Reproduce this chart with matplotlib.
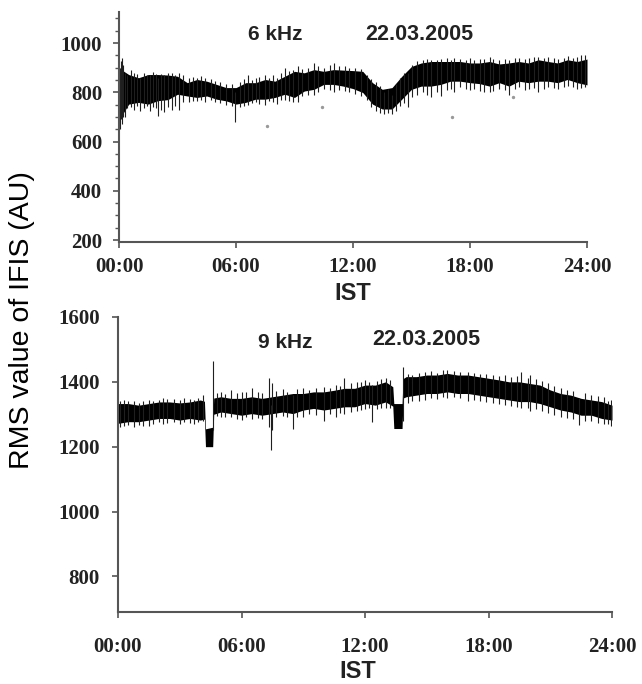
import matplotlib
matplotlib.use('Agg')
import matplotlib.pyplot as plt

# ---- 6 kHz panel: dense band (core) + single spikes
top_hours = [0, 0.25, 0.5, 1, 1.5, 2, 2.5, 3, 3.5, 4,
             4.5, 5, 5.5, 6, 6.5, 7, 7.5, 8, 8.5, 9,
             9.5, 10, 10.5, 11, 11.5, 12, 12.5, 13, 13.5, 14,
             14.5, 15, 15.5, 16, 16.5, 17, 17.5, 18, 18.5, 19,
             19.5, 20, 20.5, 21, 21.5, 22, 22.5, 23, 23.5, 24]
top_hi = [900, 885, 872, 859, 872, 872, 870, 865, 839, 852,
          845, 832, 819, 819, 839, 839, 852, 845, 865, 885,
          879, 892, 885, 892, 890, 888, 885, 839, 812, 819,
          865, 905, 919, 925, 925, 925, 925, 919, 919, 925,
          915, 919, 925, 919, 932, 925, 919, 932, 925, 935]
top_lo = [680, 720, 752, 759, 752, 766, 770, 792, 785, 779,
          785, 772, 765, 752, 759, 772, 772, 779, 792, 779,
          805, 812, 832, 832, 825, 815, 799, 752, 732, 732,
          772, 812, 825, 825, 832, 845, 845, 839, 835, 825,
          839, 825, 845, 839, 845, 845, 839, 852, 839, 830]

top_spike_h = [0.05, 0.1, 0.15, 0.22, 0.3, 0.4, 0.6, 0.75, 0.9, 1.1,
               1.3, 1.45, 1.6, 1.75, 1.9, 2.0, 2.15, 2.3, 2.5, 2.7,
               2.85, 3.1, 3.3, 3.6, 3.8, 4.0, 4.2, 4.4, 4.7, 4.9,
               5.2, 5.5, 5.8, 5.95, 6.2, 6.4, 6.6, 6.8, 7.0, 7.2,
               7.5, 7.7, 7.9, 8.1, 8.3, 8.5, 8.7, 8.9, 9.2, 9.4,
               9.7, 10.0, 10.2, 10.5, 10.8, 11.0, 11.3, 11.6, 11.8, 12.1,
               12.4, 12.7, 12.9, 13.2, 13.4, 13.6, 13.8, 14.0, 14.2, 14.4,
               14.6, 14.8, 15.0, 15.3, 15.6, 15.8, 16.0, 16.3, 16.5, 16.8,
               17.0, 17.2, 17.5, 17.8, 18.0, 18.2, 18.5, 18.7, 19.0, 19.2,
               19.5, 19.8, 20.0, 20.3, 20.5, 20.8, 21.0, 21.3, 21.5, 21.8,
               22.0, 22.3, 22.5, 22.8, 23.0, 23.3, 23.5, 23.7, 23.9]
top_spike_lo = [650, 690, 670, 700, 700, 735, 740, 730, 745, 725,
                735, 745, 723, 740, 735, 705, 730, 720, 740, 730,
                745, 727, 760, 760, 765, 765, 768, 760, 770, 762,
                755, 750, 745, 679, 740, 745, 750, 755, 760, 752,
                750, 765, 760, 752, 770, 770, 765, 762, 760, 785,
                790, 790, 800, 815, 810, 800, 810, 805, 800, 795,
                785, 770, 740, 725, 715, 712, 715, 712, 725, 745,
                755, 740, 780, 790, 800, 790, 779, 800, 785, 810,
                815, 800, 820, 815, 810, 812, 805, 800, 800, 805,
                815, 808, 790, 812, 820, 810, 815, 818, 800, 815,
                820, 818, 812, 820, 825, 820, 812, 818, 820]
top_spike_hi = [900, 925, 939, 910, 880, 870, 892, 880, 875, 860,
                878, 870, 870, 882, 875, 860, 875, 870, 880, 880,
                872, 879, 870, 858, 862, 858, 865, 860, 852, 845,
                842, 835, 835, 800, 840, 855, 872, 850, 858, 862,
                870, 860, 872, 860, 880, 899, 885, 890, 905, 895,
                900, 919, 905, 900, 910, 919, 905, 908, 900, 900,
                895, 870, 855, 840, 825, 800, 815, 790, 835, 860,
                880, 880, 912, 925, 930, 935, 930, 932, 935, 938,
                932, 940, 935, 930, 939, 930, 935, 935, 945, 935,
                930, 935, 930, 938, 940, 935, 938, 942, 945, 940,
                945, 938, 935, 940, 948, 940, 945, 950, 950]
top_dots_h = [7.6, 10.4, 17.1, 20.2]
top_dots_v = [664, 740, 700, 780]

# ---- 9 kHz panel
bot_hours = [0, 0.5, 1, 1.5, 2, 2.5, 3, 3.5, 4,
             4.2, 4.25, 4.6, 4.65,
             5, 5.5, 6, 6.5, 7, 7.3, 7.5,
             8, 8.5, 9, 9.5, 10, 10.5, 11, 11.5, 12, 12.5, 13,
             13.35, 13.4, 13.8, 13.85,
             14, 14.5, 15, 15.5, 16, 16.5, 17, 17.5, 18, 18.5,
             19, 19.5, 20, 20.5, 21, 21.5, 22, 22.5, 23, 23.5, 24]
bot_hi = [1333, 1333, 1328, 1333, 1338, 1338, 1335, 1338, 1344,
          1340, 1255, 1260, 1350,
          1354, 1349, 1349, 1354, 1349, 1352, 1354,
          1359, 1364, 1364, 1369, 1369, 1374, 1380, 1380, 1390, 1390, 1400,
          1385, 1333, 1333, 1410,
          1416, 1416, 1421, 1421, 1426, 1421, 1421, 1416, 1411, 1406,
          1400, 1400, 1395, 1390, 1375, 1364, 1359, 1349, 1344, 1339, 1328]
bot_lo = [1272, 1277, 1277, 1282, 1287, 1287, 1282, 1287, 1282,
          1285, 1200, 1200, 1300,
          1307, 1302, 1297, 1302, 1297, 1300, 1302,
          1307, 1302, 1313, 1318, 1313, 1318, 1323, 1323, 1333, 1328, 1338,
          1325, 1256, 1256, 1350,
          1354, 1359, 1364, 1364, 1369, 1364, 1364, 1359, 1354, 1349,
          1344, 1339, 1339, 1333, 1323, 1313, 1307, 1297, 1297, 1287, 1282]

bot_spike_h = [0.1, 0.3, 0.5, 0.8, 1.0, 1.2, 1.5, 1.7, 2.0, 2.2,
               2.4, 2.7, 3.0, 3.2, 3.5, 3.7, 3.9, 4.15, 4.63, 4.8,
               5.0, 5.2, 5.5, 5.8, 6.0, 6.2, 6.5, 6.8, 7.0, 7.33,
               7.42, 7.47, 7.7, 8.0, 8.2, 8.5, 8.7, 9.0, 9.3, 9.6,
               10.0, 10.3, 10.6, 10.8, 11.0, 11.3, 11.6, 11.8, 12.0, 12.2,
               12.35, 12.6, 12.8, 13.0, 13.2, 13.85, 14.1, 14.3, 14.6, 14.9,
               15.2, 15.5, 15.8, 16.0, 16.3, 16.6, 17.0, 17.3, 17.6, 17.9,
               18.2, 18.5, 18.8, 19.1, 19.4, 19.6, 19.9, 20.0, 20.3, 20.6,
               20.9, 21.2, 21.5, 21.8, 22.1, 22.4, 22.7, 23.0, 23.3, 23.6,
               23.8, 23.95]
bot_spike_lo = [1262, 1265, 1268, 1260, 1268, 1265, 1265, 1270, 1275, 1270,
                1272, 1275, 1270, 1275, 1272, 1270, 1275, 1280, 1250, 1295,
                1290, 1292, 1290, 1285, 1282, 1290, 1285, 1288, 1285, 1260,
                1190, 1250, 1290, 1295, 1290, 1256, 1292, 1290, 1300, 1298,
                1280, 1300, 1290, 1305, 1300, 1308, 1310, 1312, 1315, 1318,
                1277, 1315, 1320, 1320, 1318, 1280, 1335, 1340, 1342, 1345,
                1350, 1348, 1352, 1350, 1352, 1350, 1340, 1345, 1342, 1338,
                1335, 1332, 1328, 1325, 1322, 1320, 1318, 1310, 1315, 1310,
                1305, 1298, 1292, 1288, 1285, 1266, 1280, 1278, 1272, 1270,
                1270, 1265]
bot_spike_hi = [1340, 1345, 1342, 1340, 1335, 1342, 1345, 1340, 1345, 1350,
                1346, 1348, 1345, 1350, 1346, 1345, 1350, 1360, 1465, 1365,
                1370, 1362, 1374, 1365, 1368, 1370, 1380, 1370, 1365, 1411,
                1330, 1395, 1372, 1378, 1370, 1360, 1378, 1380, 1375, 1382,
                1385, 1380, 1390, 1388, 1411, 1395, 1398, 1400, 1405, 1400,
                1390, 1402, 1408, 1411, 1405, 1446, 1425, 1420, 1428, 1430,
                1432, 1428, 1435, 1436, 1432, 1430, 1430, 1428, 1425, 1425,
                1420, 1418, 1420, 1415, 1418, 1431, 1412, 1420, 1408, 1402,
                1395, 1388, 1380, 1375, 1372, 1350, 1365, 1360, 1355, 1352,
                1340, 1345]

xticks = [0, 6, 12, 18, 24]
xlabels = ['00:00', '06:00', '12:00', '18:00', '24:00']

W, H = 642, 684
fig = plt.figure(figsize=(W / 100, H / 100), dpi=100)


def px(x, y):
    return x / W, 1 - y / H


def style_axes(ax, ylim, yticks, minor=None, xpad=7, ypad=8):
    ax.set_xlim(0, 24)
    ax.set_ylim(*ylim)
    for s in ['top', 'right']:
        ax.spines[s].set_visible(False)
    for s in ['left', 'bottom']:
        ax.spines[s].set_color('#555555')
        ax.spines[s].set_linewidth(1.5)
    ax.set_xticks(xticks)
    ax.set_xticklabels(xlabels)
    ax.set_yticks(yticks)
    if minor is not None:
        ax.set_yticks(minor, minor=True)
        ax.tick_params(axis='y', which='minor', length=3, width=1, color='#555555')
    ax.tick_params(axis='both', which='major', length=4, width=1.2, color='#555555')
    ax.tick_params(axis='x', pad=xpad)
    ax.tick_params(axis='y', pad=ypad)
    for lab in ax.get_xticklabels() + ax.get_yticklabels():
        lab.set_fontfamily('Liberation Serif')
        lab.set_fontweight('bold')
        lab.set_fontsize(15)
        lab.set_color('#222222')


# top panel
ax1 = fig.add_axes([119 / W, 1 - 242 / H, (587 - 119) / W, (242 - 12) / H])
ax1.fill_between(top_hours, top_lo, top_hi, color='black', lw=0)
ax1.vlines(top_spike_h, top_spike_lo, top_spike_hi, color='0.12', lw=0.8)
ax1.scatter(top_dots_h, top_dots_v, s=2, color='0.6')
style_axes(ax1, (192, 1126), [200, 400, 600, 800, 1000],
           minor=list(range(200, 1101, 50)), xpad=7, ypad=8)

# bottom panel
ax2 = fig.add_axes([118 / W, 1 - 612 / H, (612 - 118) / W, (612 - 317) / H])
ax2.fill_between(bot_hours, bot_lo, bot_hi, color='black', lw=0)
ax2.vlines(bot_spike_h, bot_spike_lo, bot_spike_hi, color='0.12', lw=0.8)
style_axes(ax2, (690, 1600), [800, 1000, 1200, 1400, 1600], xpad=14, ypad=9)

sans = 'Liberation Sans'
fig.text(*px(275, 34), '6 kHz', family=sans, weight='bold', size=15, ha='center', va='center', color='#222222')
fig.text(*px(419, 34), '22.03.2005', family=sans, weight='bold', size=15.5, ha='center', va='center', color='#222222')
fig.text(*px(285, 342), '9 kHz', family=sans, weight='bold', size=15, ha='center', va='center', color='#222222')
fig.text(*px(426, 340), '22.03.2005', family=sans, weight='bold', size=15.5, ha='center', va='center', color='#222222')
fig.text(*px(353, 294), 'IST', family=sans, weight='bold', size=17, ha='center', va='center', color='#222222')
fig.text(*px(358, 672), 'IST', family=sans, weight='bold', size=17, ha='center', va='center', color='#222222')
fig.text(*px(22, 320), 'RMS value of IFIS (AU)', family=sans, size=20.5, rotation=90,
         ha='center', va='center', color='black')

fig.savefig('out.png', dpi=100)
